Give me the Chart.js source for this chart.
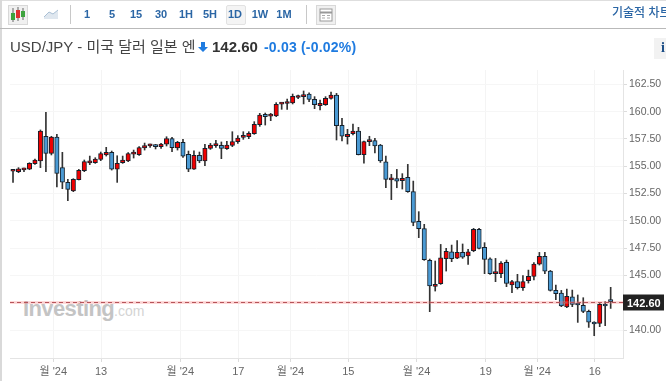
<!DOCTYPE html>
<html lang="ko">
<head>
<meta charset="UTF-8">
<title>USD/JPY</title>
<script src="https://cdn.jsdelivr.net/npm/chart.js@4"></script>
<style>
    html, body { margin: 0; padding: 0; background: #fff; }
    body { width: 666px; height: 381px; overflow: hidden; position: relative; font-family: "Liberation Sans", "Noto Sans CJK KR", sans-serif; }
    .abs { position: absolute; white-space: nowrap; }
    #leftEdge { left: 0; top: 0; width: 2px; height: 381px; background: #d9d9d9; }
    #topEdge { left: 0; top: 0; width: 666px; height: 1px; background: #dedede; }
    #toolLine { left: 0; top: 28px; width: 666px; height: 1px; background: #b9b9b9; }
    .sep { top: 5px; width: 1px; height: 19px; background: #c8c8c8; }
    .tf { top: 7px; width: 24px; text-align: center; font-size: 11px; line-height: 15px; font-weight: bold; color: #2b66a5; }
    #tfActive { left: 226px; top: 5px; width: 18px; height: 18px; background: #f4f4f4; border: 1px solid #e2e2e2; border-radius: 2px; }
    .iconbox { top: 5px; width: 18px; height: 18px; background: #f0f0f0; border: 1px solid #d8d8d8; }
    #techLink { left: 612px; top: 5px; font-size: 12px; line-height: 16px; font-weight: 500; color: #2b66a5; }
    #title { left: 10px; top: 38px; font-size: 15px; line-height: 18px; color: #444; }
    #price { left: 212px; top: 38px; font-size: 15px; line-height: 18px; font-weight: bold; color: #333; }
    #change { left: 264px; top: 38px; font-size: 14px; line-height: 18px; font-weight: bold; color: #1f7be0; letter-spacing: 0.2px; }
    #infoBtn { left: 654px; top: 38px; width: 12px; height: 21px; background: #f2f2f2; }
    #infoBtn span { position: absolute; left: 7px; top: 2px; font: bold 14px "Liberation Serif", serif; color: #1d4f87; }
    #wmMain { left: 23px; top: 297px; font-size: 22px; line-height: 24px; font-weight: bold; color: #c4c4c4; letter-spacing: -0.6px; }
    #wmCom { left: 114px; top: 303px; font-size: 14px; line-height: 16px; color: #d4d4d4; }
    #chart { position: absolute; left: 0; top: 0; }
</style>
</head>
<body>
    <div class="abs" id="wmMain">Investing</div>
    <div class="abs" id="wmCom">.com</div>
    <canvas id="chart" width="666" height="381"></canvas>

    <div class="abs" id="topEdge"></div>
    <div class="abs" id="leftEdge"></div>
    <div class="abs" id="toolLine"></div>

    <div class="abs iconbox" style="left:8px"></div>
    <svg class="abs" style="left:8px;top:5px" width="20" height="20">
        <path d="M5 3v14M10 2v14M15 3v12" stroke="#666" fill="none"/>
        <rect x="3" y="8" width="4" height="7" fill="#3ea33e"/>
        <rect x="8" y="5" width="4" height="8" fill="#e03030"/>
        <rect x="13" y="6" width="4" height="6" fill="#3ea33e"/>
    </svg>
    <svg class="abs" style="left:43px;top:8px" width="17" height="13">
        <path d="M1 9 L6 4 L10 6 L15 2 V11 H1 Z" fill="#dfe7ef"/>
        <path d="M1 9 L6 4 L10 6 L15 2" stroke="#a9bfd4" fill="none"/>
    </svg>
    <div class="abs sep" style="left:70px"></div>
    <div class="abs" id="tfActive"></div>
    <div class="abs tf" style="left:75px">1</div>
    <div class="abs tf" style="left:100px">5</div>
    <div class="abs tf" style="left:124px">15</div>
    <div class="abs tf" style="left:149px">30</div>
    <div class="abs tf" style="left:174px">1H</div>
    <div class="abs tf" style="left:198px">5H</div>
    <div class="abs tf" style="left:223px">1D</div>
    <div class="abs tf" style="left:248px">1W</div>
    <div class="abs tf" style="left:272px">1M</div>
    <div class="abs sep" style="left:306px"></div>
    <div class="abs iconbox" style="left:316px"></div>
    <svg class="abs" style="left:316px;top:5px" width="20" height="20">
        <rect x="4" y="4" width="12" height="12" fill="#fff" stroke="#999"/>
        <path d="M4 7.5h12" stroke="#999" stroke-width="2"/>
        <path d="M6 10.5h3M6 13h3M11 10.5h3M11 13h3" stroke="#aaa"/>
    </svg>
    <div class="abs" id="techLink">기술적 차트</div>

    <div class="abs" id="title">USD/JPY - 미국 달러 일본 엔</div>
    <svg class="abs" style="left:198px;top:41px" width="10" height="12">
        <path d="M3 1h4v5h3L5 11 0 6h3z" fill="#1f7be0"/>
    </svg>
    <div class="abs" id="price">142.60</div>
    <div class="abs" id="change">-0.03 (-0.02%)</div>
    <div class="abs" id="infoBtn"><span>i</span></div>

    <script>
        const opens = [154.54,154.50,154.66,154.74,155.23,155.48,157.74,156.18,157.67,154.87,
            153.52,152.73,153.77,154.59,155.30,155.32,155.63,156.03,156.27,154.74,
            155.32,155.48,156.10,156.06,156.67,156.86,156.91,156.79,157.03,157.52,
            156.67,157.19,156.09,154.74,156.00,155.48,156.64,156.89,156.91,156.61,
            156.91,157.25,157.64,157.70,157.98,158.80,159.75,159.58,159.60,160.68,
            160.74,160.79,161.29,161.37,161.61,161.12,160.54,160.64,161.21,161.52,
            158.74,157.70,157.98,158.22,156.06,157.25,157.34,156.94,155.41,153.75,
            153.86,153.67,153.98,152.67,149.95,149.28,146.38,144.00,144.24,146.53,
            147.17,146.59,147.11,146.78,147.26,149.22,147.57,146.53,145.17,145.16,
            146.20,144.12,144.43,143.88,144.52,144.91,146.04,146.75,145.40,143.63,
            143.39,142.11,143.05,142.38,142.26,141.71,140.67,140.61,142.35,142.63];
        const highs = [154.59,154.87,154.84,155.32,155.66,158.32,159.93,157.74,157.92,156.27,
            153.80,153.86,154.71,155.57,155.93,155.78,156.30,156.73,156.39,155.96,
            155.93,156.24,156.48,156.79,157.12,157.03,157.00,157.09,157.70,157.64,
            157.28,157.46,156.39,156.42,156.30,157.00,157.09,157.37,157.22,157.28,
            158.16,157.80,158.16,158.16,159.08,159.84,159.87,159.84,160.82,160.82,
            161.15,161.61,161.52,161.89,161.73,161.37,161.06,161.37,161.79,161.67,
            159.38,158.38,158.86,158.56,157.31,157.74,157.55,157.00,155.93,154.26,
            154.71,154.32,155.17,153.64,150.84,149.68,146.50,146.32,147.84,147.48,
            147.78,148.18,147.88,147.39,149.31,149.31,148.00,146.62,146.56,146.26,
            146.41,144.55,145.10,144.98,145.49,146.17,147.11,147.11,145.46,144.12,
            143.63,143.75,143.66,143.21,142.96,141.83,140.76,142.44,142.60,143.91];
        const lows = [153.52,154.41,154.50,154.68,155.17,154.87,154.50,156.03,153.10,152.94,
            151.84,152.67,153.74,154.50,155.14,155.26,155.51,155.93,154.65,153.52,
            155.26,155.42,155.75,156.00,156.48,156.73,156.58,156.64,156.85,156.33,
            156.48,155.81,154.50,154.71,155.32,155.05,156.54,156.73,155.69,156.54,
            156.79,157.09,157.46,157.52,157.92,158.65,158.77,159.17,159.54,160.21,
            160.21,160.70,161.18,160.70,160.91,160.27,160.15,160.57,161.15,157.40,
            157.31,157.03,157.86,156.03,155.29,156.88,156.21,155.35,153.03,151.94,
            153.03,152.91,152.61,149.55,148.46,146.38,141.68,143.57,144.18,145.40,
            146.26,146.53,146.56,146.01,147.17,147.42,145.16,145.10,144.43,144.79,
            143.97,143.42,143.75,143.63,144.30,144.58,145.95,145.16,143.57,142.78,
            142.14,142.05,142.14,140.70,141.59,140.24,139.48,140.31,140.40,141.98];
        const closes = [154.58,154.77,154.70,155.26,155.57,158.22,156.18,157.67,154.35,153.55,
            152.88,153.80,154.62,155.42,155.34,155.66,156.15,156.27,154.74,155.26,
            155.57,156.15,156.14,156.70,156.88,156.90,156.79,157.03,157.52,156.70,
            157.19,155.93,154.74,156.00,155.48,156.64,156.94,156.93,156.64,156.94,
            157.25,157.58,157.73,158.01,158.83,159.69,159.54,159.62,160.67,160.72,
            160.78,161.40,161.33,161.55,161.12,160.64,160.76,161.21,161.52,158.71,
            157.74,157.92,158.22,156.06,157.25,157.43,156.85,155.48,153.80,153.79,
            153.64,153.89,152.67,149.86,149.28,146.44,144.03,144.18,146.62,147.20,
            146.53,147.11,146.68,147.17,149.22,147.48,146.47,145.16,145.21,146.14,
            144.27,144.43,143.88,144.43,144.91,146.04,146.75,145.40,143.63,143.33,
            142.20,143.08,142.35,142.29,141.71,140.73,140.55,142.35,142.20,142.60];

        const xTickIndex = [7.35,16.05,30.5,41.1,50.6,61.15,73.6,86.2,95.6,106.1];
        const xTickLabels = ["월 '24","13","월 '24","17","월 '24","15","월 '24","19","월 '24","16"];
        const yTicks = [140,142.5,145,147.5,150,152.5,155,157.5,160,162.5];
        const lastPrice = 142.60;

        const upColor = '#f00000';
        const downColor = '#4a9ad4';
        const candleEdge = '#15202b';

        const wicks = opens.map((o, i) => ({ x: i, y: [lows[i], highs[i]] }));
        const bodies = opens.map((o, i) => ({ x: i, y: [o, closes[i]] }));
        const bodyColors = opens.map((o, i) => closes[i] >= o ? upColor : downColor);

        const priceLine = {
            id: 'priceLine',
            afterDatasetsDraw(chart) {
                const { ctx, chartArea, scales } = chart;
                const y = Math.round(scales.y.getPixelForValue(lastPrice)) + 0.5;
                ctx.save();
                ctx.strokeStyle = 'rgba(255,120,120,0.28)';
                ctx.lineWidth = 3;
                ctx.beginPath();
                ctx.moveTo(chartArea.left, y);
                ctx.lineTo(chartArea.right, y);
                ctx.stroke();
                ctx.strokeStyle = '#b5545a';
                ctx.lineWidth = 1;
                ctx.setLineDash([4, 3]);
                ctx.beginPath();
                ctx.moveTo(chartArea.left, y);
                ctx.lineTo(chartArea.right, y);
                ctx.stroke();
                ctx.setLineDash([]);

                // current price tag on the axis
                ctx.fillStyle = '#222';
                ctx.fillRect(chartArea.right, y - 8, 41, 16);
                ctx.fillStyle = '#fff';
                ctx.font = 'bold 11px "Liberation Sans"';
                ctx.textBaseline = 'middle';
                ctx.textAlign = 'left';
                ctx.fillText(lastPrice.toFixed(2), chartArea.right + 4, y + 1);
                ctx.restore();
            }
        };

        new Chart(document.getElementById('chart'), {
            type: 'bar',
            data: {
                datasets: [
                    {
                        data: bodies,
                        order: 1,
                        grouped: false,
                        barThickness: 4.4,
                        minBarLength: 2,
                        backgroundColor: bodyColors,
                        borderColor: candleEdge,
                        borderWidth: 1,
                        borderSkipped: false
                    },
                    {
                        data: wicks,
                        order: 2,
                        grouped: false,
                        barThickness: 1,
                        backgroundColor: '#333'
                    }
                ]
            },
            plugins: [priceLine],
            options: {
                responsive: false,
                animation: false,
                layout: { padding: { left: 10, top: 70, right: 0, bottom: 0 } },
                plugins: { legend: { display: false }, tooltip: { enabled: false } },
                scales: {
                    x: {
                        type: 'linear',
                        offset: false,
                        min: -0.55,
                        max: 111.25,
                        afterBuildTicks(scale) { scale.ticks = xTickIndex.map(v => ({ value: v })); },
                        afterFit(scale) { scale.height = 23; },
                        grid: { offset: false, color: '#f4f4f4', tickColor: '#dcdcdc', tickLength: 4 },
                        border: { color: '#e4e4e4' },
                        ticks: {
                            autoSkip: false,
                            maxRotation: 0,
                            padding: 3,
                            color: '#666',
                            font: { family: '"Liberation Sans","Noto Sans CJK KR"', size: 11 },
                            callback(value, index) { return xTickLabels[index]; }
                        }
                    },
                    y: {
                        position: 'right',
                        min: 137.44,
                        max: 163.81,
                        afterBuildTicks(scale) { scale.ticks = yTicks.map(v => ({ value: v })); },
                        afterFit(scale) { scale.width = 43; },
                        grid: { color: '#f6f6f6', tickColor: '#dcdcdc', tickLength: 4 },
                        border: { color: '#e4e4e4' },
                        ticks: {
                            autoSkip: false,
                            padding: 2,
                            color: '#666',
                            font: { family: '"Liberation Sans"', size: 10.5 },
                            callback(value) { return value === 142.5 ? '' : value.toFixed(2); }
                        }
                    }
                }
            }
        });
    </script>
</body>
</html>
